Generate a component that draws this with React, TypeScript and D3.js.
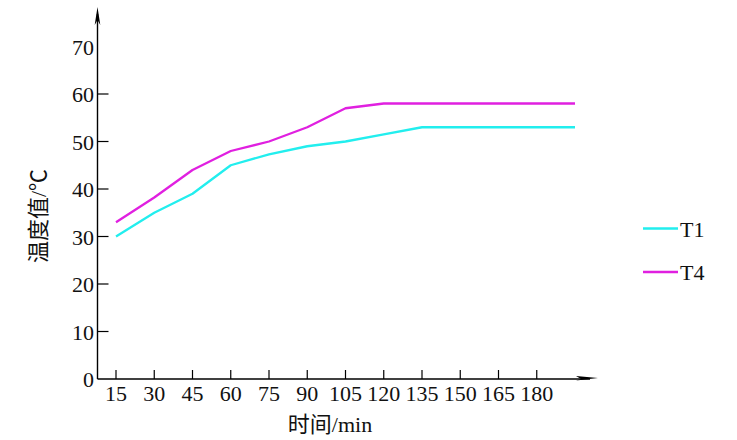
import React from "react";
import * as d3 from "d3";

const times = [15, 30, 45, 60, 75, 90, 105, 120, 135, 150, 165, 180, 195];
const t1Values = [30, 35, 39, 45, 47.3, 49, 50, 51.5, 53, 53, 53, 53, 53];
const t4Values = [33, 38.2, 44, 48, 50, 53, 57, 58, 58, 58, 58, 58, 58];
const xTickLabels = [15, 30, 45, 60, 75, 90, 105, 120, 135, 150, 165, 180];
const yTickValues = [10, 20, 30, 40, 50, 60];
const yLabelValues = [0, 10, 20, 30, 40, 50, 60, 70];
const seriesNames = ["T1", "T4"];
const seriesColors = ["#22eeee", "#e020e0"];

const W = 737;
const H = 440;
const axisX = 97.5;
const axisY = 379;

export default function App() {
  const x = d3.scaleLinear().domain([15, 195]).range([116, 575]);
  const y = d3.scaleLinear().domain([0, 70]).range([axisY, 46.5]);
  const line = d3
    .line<number>()
    .x((_, i) => x(times[i]))
    .y((v) => y(v));
  const series = [t1Values, t4Values];
  const font = "'Liberation Serif', 'Times New Roman', 'Noto Sans CJK SC', serif";
  const legendY = [228.5, 272];

  return (
    <svg
      width={W}
      height={H}
      style={{ position: "absolute", left: 0, top: 0, background: "#fff" }}
      fontFamily={font}
    >
      <rect width={W} height={H} fill="#fff" />
      {/* lines */}
      {series.map((s, i) => (
        <path
          key={i}
          d={line(s) || ""}
          fill="none"
          stroke={seriesColors[i]}
          strokeWidth={2.3}
          strokeLinejoin="round"
        />
      ))}
      {/* y axis */}
      <line x1={axisX} y1={axisY} x2={axisX} y2={14} stroke="#000" strokeWidth={1.4} />
      <path d={`M${axisX},7 L${axisX - 2.8},25 L${axisX},20 L${axisX + 2.8},25 Z`} fill="#000" />
      {yTickValues.map((v) => (
        <line key={v} x1={axisX} x2={axisX + 11} y1={y(v)} y2={y(v)} stroke="#000" strokeWidth={1.2} />
      ))}
      {yLabelValues.map((v) => (
        <text
          key={v}
          x={94}
          y={y(v) + 8}
          textAnchor="end"
          fontSize={22}
          fill="#111"
        >
          {v}
        </text>
      ))}
      {/* x axis */}
      <line x1={axisX} y1={axisY} x2={590} y2={axisY} stroke="#000" strokeWidth={1.4} />
      <path d={`M598,${axisY - 1} L576,${axisY - 3} L581,${axisY} L576,${axisY + 1.5} Z`} fill="#000" />
      {xTickLabels.map((v) => (
        <line key={v} x1={x(v)} x2={x(v)} y1={axisY} y2={axisY - 9} stroke="#000" strokeWidth={1.2} />
      ))}
      {xTickLabels.map((v) => (
        <text key={v} x={x(v)} y={401} textAnchor="middle" fontSize={22} fill="#111">
          {v}
        </text>
      ))}
      {/* axis titles */}
      <text x={330} y={432} textAnchor="middle" fontSize={22} fill="#111">
        时间/min
      </text>
      <text
        transform="translate(46,216) rotate(-90)"
        textAnchor="middle"
        fontSize={22}
        fill="#111"
      >
        温度值/℃
      </text>
      {/* legend */}
      {seriesNames.map((n, i) => (
        <g key={n}>
          <line
            x1={643}
            x2={678}
            y1={legendY[i]}
            y2={legendY[i]}
            stroke={seriesColors[i]}
            strokeWidth={2.3}
          />
          <text x={680} y={legendY[i] + 8} fontSize={22} fill="#111">
            {n}
          </text>
        </g>
      ))}
    </svg>
  );
}
